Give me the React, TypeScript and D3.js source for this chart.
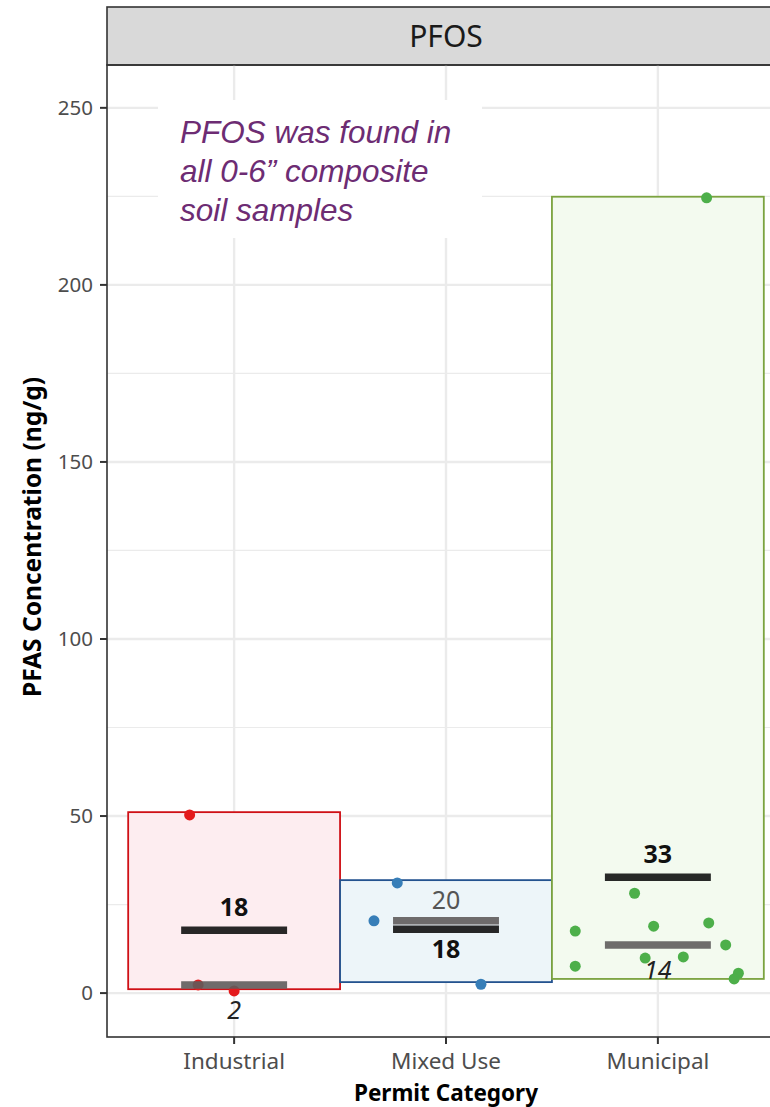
import * as d3 from 'd3';

const categories = ['Industrial', 'Mixed Use', 'Municipal'];

// concentrations per permit category (ng/g)
const industrialValues = [50.3, 2.3, 0.6];
const mixedUseValues = [20.4, 31.1, 2.5];
const municipalValues = [224.6, 28.2, 17.5, 18.9, 19.8, 13.6, 7.6, 9.9, 10.2, 5.6, 4.0];

// horizontal jitter, as share of the band width
const industrialJitter = [-0.21, -0.17, 0.0];
const mixedUseJitter = [-0.34, -0.23, 0.165];
const municipalJitter = [0.23, -0.11, -0.39, -0.02, 0.24, 0.32, -0.39, -0.06, 0.12, 0.38, 0.36];

// shaded range boxes [low, high]
const rangeLow = [1.1, 3.1, 4.0];
const rangeHigh = [51.1, 31.9, 224.9];

const meanLabelSide = ['above', 'below', 'above'];
const medianLabelSide = ['below', 'above', 'below'];

const yTicks = [0, 50, 100, 150, 200, 250];
const yMinor = [25, 75, 125, 175, 225];

const pointColors = ['#e41a1c', '#377eb8', '#4daf4a'];
const boxStroke = ['#cf1016', '#24538f', '#7ba33f'];
const boxFill = ['#fdedf0', '#edf5f9', '#f3faef'];

const annotationLines = ['PFOS was found in', 'all 0-6\u201d composite', 'soil samples'];

const W = 770;
const H = 1107;
const panel = { left: 107, right: 785, top: 65, bottom: 1037 };
const font = '"Noto Sans", "Open Sans", sans-serif';

export default function App() {
  const groups = [industrialValues, mixedUseValues, municipalValues];
  const jitters = [industrialJitter, mixedUseJitter, municipalJitter];

  const x = d3.scaleBand<string>()
    .domain(categories)
    .range([panel.left, panel.right])
    .paddingInner(0)
    .paddingOuter(0.1);
  const bw = x.bandwidth();

  const y = d3.scaleLinear()
    .domain([-12.4, 262.1])
    .range([panel.bottom, panel.top]);

  return (
    <svg width={W} height={H} style={{ position: 'absolute', left: 0, top: 0, background: '#fff' }}>
      {/* strip */}
      <rect x={panel.left} y={7} width={panel.right - panel.left} height={panel.top - 7}
        fill="#d9d9d9" stroke="#333" strokeWidth={1.6} />
      <text x={(panel.left + panel.right) / 2} y={36} dy="0.36em" textAnchor="middle"
        fontFamily={font} fontSize={30} fill="#1a1a1a">PFOS</text>

      {/* grid */}
      {yMinor.map(v => (
        <line key={'mi' + v} x1={panel.left} x2={panel.right} y1={y(v)} y2={y(v)} stroke="#ebebeb" strokeWidth={1.2} />
      ))}
      {yTicks.map(v => (
        <line key={'ma' + v} x1={panel.left} x2={panel.right} y1={y(v)} y2={y(v)} stroke="#ebebeb" strokeWidth={2.4} />
      ))}
      {categories.map(c => (
        <line key={'gx' + c} x1={x(c)! + bw / 2} x2={x(c)! + bw / 2} y1={panel.top} y2={panel.bottom}
          stroke="#ebebeb" strokeWidth={2.4} />
      ))}

      {/* annotation box */}
      <rect x={158} y={100} width={324} height={138} fill="#fff" />
      {annotationLines.map((t, i) => (
        <text key={t} x={180} y={143 + i * 39} fontFamily='"Liberation Sans", Arial, sans-serif'
          fontStyle="italic" fontSize={31.5} fill="#6d2c73">{t}</text>
      ))}

      {/* range boxes */}
      {categories.map((c, i) => (
        <rect key={'box' + c} x={x(c)!} y={y(rangeHigh[i])} width={bw}
          height={y(rangeLow[i]) - y(rangeHigh[i])}
          fill={boxFill[i]} stroke={boxStroke[i]} strokeWidth={1.8} />
      ))}

      {/* points */}
      {groups.map((vals, i) => vals.map((v, j) => (
        <circle key={'p' + i + '-' + j} cx={x(categories[i])! + bw / 2 + jitters[i][j] * bw} cy={y(v)}
          r={5.5} fill={pointColors[i]} />
      )))}

      {/* median and mean bars with labels */}
      {groups.map((vals, i) => {
        const cx = x(categories[i])! + bw / 2;
        const mean = d3.mean(vals)!;
        const median = d3.median(vals)!;
        const ym = y(mean);
        const yd = y(median);
        const medStyle = i === 1
          ? { fontStyle: 'normal', fill: '#555' }
          : { fontStyle: 'italic', fill: '#222' };
        return (
          <g key={'stat' + i}>
            <line x1={cx - bw / 4} x2={cx + bw / 4} y1={yd} y2={yd} stroke="#5f5c5c" strokeOpacity={0.9} strokeWidth={7.5} />
            <line x1={cx - bw / 4} x2={cx + bw / 4} y1={ym} y2={ym} stroke="#111" strokeOpacity={0.9} strokeWidth={7.5} />
            <text x={cx} y={ym + (meanLabelSide[i] === 'above' ? -23 : 20)} dy="0.36em" textAnchor="middle"
              fontFamily={font} fontWeight="bold" fontSize={25} fill="#111">{Math.round(mean)}</text>
            <text x={cx} y={yd + (medianLabelSide[i] === 'above' ? -21 : 25)} dy="0.36em" textAnchor="middle"
              fontFamily={font} fontSize={25} fontStyle={medStyle.fontStyle} fill={medStyle.fill}>{Math.round(median)}</text>
          </g>
        );
      })}

      {/* panel border */}
      <rect x={panel.left} y={panel.top} width={panel.right - panel.left} height={panel.bottom - panel.top}
        fill="none" stroke="#333" strokeWidth={1.6} />

      {/* y axis */}
      {yTicks.map(v => (
        <g key={'yt' + v}>
          <line x1={panel.left - 7} x2={panel.left} y1={y(v)} y2={y(v)} stroke="#333" strokeWidth={2} />
          <text x={panel.left - 14} y={y(v)} dy="0.36em" textAnchor="end" fontFamily={font}
            fontSize={20.5} fill="#4d4d4d">{v}</text>
        </g>
      ))}
      <text transform={`translate(32,537) rotate(-90)`} dy="0.36em" textAnchor="middle" fontFamily={font}
        fontWeight="bold" fontSize={24.5} fill="#000">PFAS Concentration (ng/g)</text>

      {/* x axis */}
      {categories.map(c => (
        <g key={'xt' + c}>
          <line x1={x(c)! + bw / 2} x2={x(c)! + bw / 2} y1={panel.bottom} y2={panel.bottom + 7} stroke="#333" strokeWidth={2} />
          <text x={x(c)! + bw / 2} y={1061} dy="0.36em" textAnchor="middle" fontFamily={font}
            fontSize={22.5} fill="#4d4d4d">{c}</text>
        </g>
      ))}
      <text x={(panel.left + panel.right) / 2} y={1093} dy="0.36em" textAnchor="middle" fontFamily={font}
        fontWeight="bold" fontSize={22.5} fill="#000">Permit Category</text>
    </svg>
  );
}
